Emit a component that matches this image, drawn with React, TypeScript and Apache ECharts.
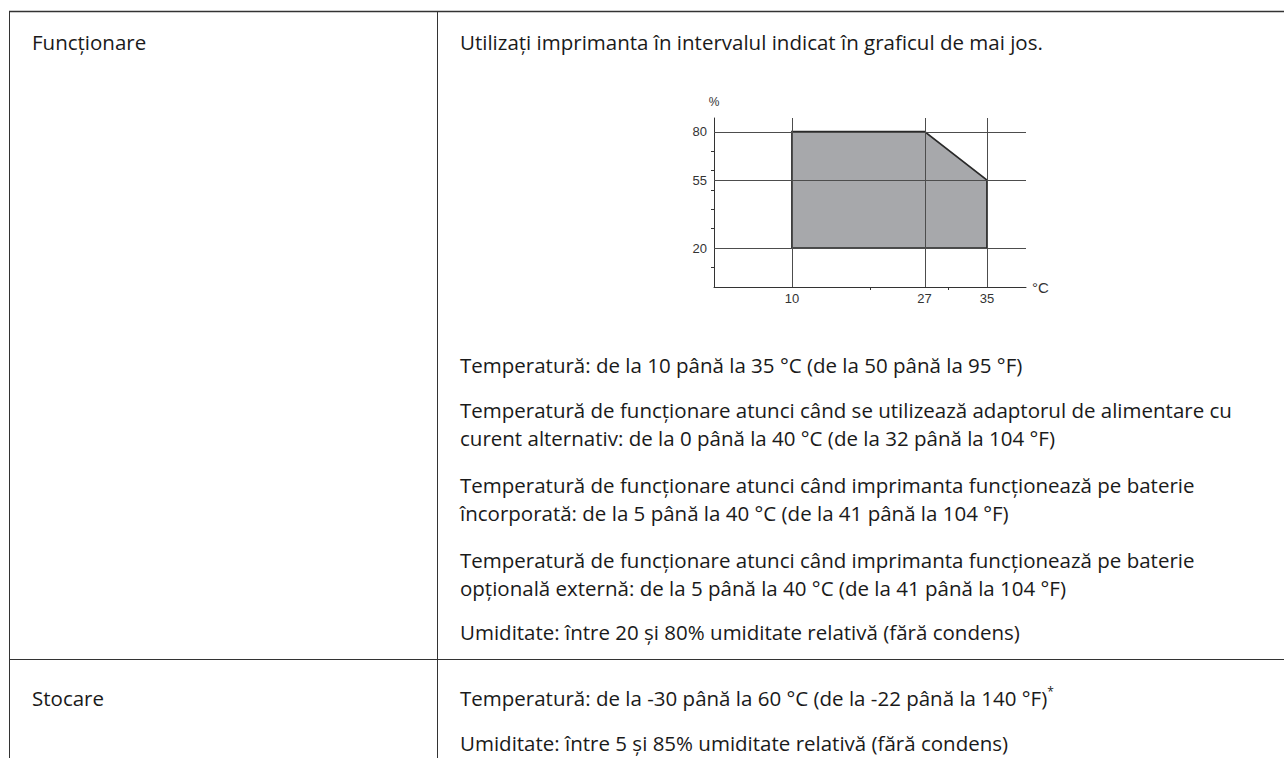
import React, { useEffect, useRef } from "react";
import * as echarts from "echarts";

// ---- chart data ----
const tempPoints = [10, 10, 27, 35, 35];
const humidityPoints = [20, 80, 80, 55, 20];
const xLabelValues = [10, 27, 35];
const yLabelValues = [20, 55, 80];
const xTickValues = [20, 30];
const yTickValues = [10, 30, 40, 50, 60, 70];
const xGridValues = [10, 27, 35];
const yGridValues = [20, 55, 80];
const xAxisName = "°C";
const yAxisName = "%";

// ---- table texts ----
const rowLabels = ["Funcționare", "Stocare"];
const introText = "Utilizați imprimanta în intervalul indicat în graficul de mai jos.";
const operatingLines = [
  "Temperatură: de la 10 până la 35 °C (de la 50 până la 95 °F)",
  "Temperatură de funcționare atunci când se utilizează adaptorul de alimentare cu",
  "curent alternativ: de la 0 până la 40 °C (de la 32 până la 104 °F)",
  "Temperatură de funcționare atunci când imprimanta funcționează pe baterie",
  "încorporată: de la 5 până la 40 °C (de la 41 până la 104 °F)",
  "Temperatură de funcționare atunci când imprimanta funcționează pe baterie",
  "opțională externă: de la 5 până la 40 °C (de la 41 până la 104 °F)",
  "Umiditate: între 20 și 80% umiditate relativă (fără condens)",
];
const storageLines = [
  "Temperatură: de la -30 până la 60 °C (de la -22 până la 140 °F)",
  "Umiditate: între 5 și 85% umiditate relativă (fără condens)",
];
const footnoteMark = "*";

// layout (positions only)
const operatingY = [365, 410, 438, 485, 513, 560, 588, 632];
const storageY = [698, 743];

const FONT = "'Open Sans', 'Noto Sans', sans-serif";
const TEXT_COLOR = "#1a1a1a";
const FS = 20.5;
const LINE = "#333333";

export default function App() {
  const ref = useRef<HTMLDivElement>(null);

  useEffect(() => {
    if (!ref.current) return;
    const chart = echarts.init(ref.current, undefined, { renderer: "svg" });

    const textEl = (text: string, x: number, y: number) => ({
      type: "text",
      x,
      y,
      style: {
        text,
        fontSize: FS,
        fontFamily: FONT,
        fill: TEXT_COLOR,
        align: "left",
        verticalAlign: "middle",
      },
      silent: true,
    });

    const graphics: any[] = [
      { type: "line", shape: { x1: 9, y1: 11.5, x2: 1284, y2: 11.5 }, style: { stroke: LINE, lineWidth: 1.3 } },
      { type: "line", shape: { x1: 9.5, y1: 11, x2: 9.5, y2: 758 }, style: { stroke: LINE, lineWidth: 1 } },
      { type: "line", shape: { x1: 437.5, y1: 11, x2: 437.5, y2: 758 }, style: { stroke: LINE, lineWidth: 1 } },
      { type: "line", shape: { x1: 9, y1: 659.5, x2: 1284, y2: 659.5 }, style: { stroke: LINE, lineWidth: 1 } },
      textEl(rowLabels[0], 32, 42),
      textEl(rowLabels[1], 32, storageY[0]),
      textEl(introText, 460, 42),
      ...operatingLines.map((t, i) => textEl(t, 460, operatingY[i])),
      {
        type: "text",
        x: 460,
        y: storageY[0],
        style: {
          text: "{a|" + storageLines[0] + "}{s|" + footnoteMark + "}",
          verticalAlign: "middle",
          align: "left",
          rich: {
            a: { fontSize: FS, fontFamily: FONT, fill: TEXT_COLOR, lineHeight: 26 },
            s: { fontSize: 12, fontFamily: FONT, fill: TEXT_COLOR, lineHeight: 26, verticalAlign: "top" },
          },
        },
        silent: true,
      },
      textEl(storageLines[1], 460, storageY[1]),
    ];

    const gridData = [
      ...xGridValues.map((v) => [0, v]),
      ...yGridValues.map((v) => [1, v]),
    ];

    const axisFont = { color: "#333", fontSize: 13, fontFamily: "'Liberation Sans', Arial, sans-serif" };

    chart.setOption({
      animation: false,
      grid: { left: 714, right: 258, top: 118, bottom: 471, containLabel: false },
      xAxis: {
        type: "value",
        min: 0,
        max: 40,
        name: xAxisName,
        nameLocation: "end",
        nameGap: 6,
        nameTextStyle: { ...axisFont, fontSize: 15, verticalAlign: "middle" },
        axisLine: { show: true, lineStyle: { color: "#333", width: 1 } },
        axisTick: { show: true, customValues: xTickValues, length: 3, inside: false, lineStyle: { color: "#333", width: 1 } },
        axisLabel: { show: true, customValues: xLabelValues, margin: 5, ...axisFont },
        splitLine: { show: false },
      },
      yAxis: {
        type: "value",
        min: 0,
        max: 87,
        name: yAxisName,
        nameLocation: "end",
        nameGap: 10,
        nameTextStyle: { ...axisFont, fontSize: 12, align: "center" },
        axisLine: { show: true, lineStyle: { color: "#333", width: 1 } },
        axisTick: { show: true, customValues: yTickValues, length: 3, inside: false, lineStyle: { color: "#333", width: 1 } },
        axisLabel: { show: true, customValues: yLabelValues, margin: 7, ...axisFont },
        splitLine: { show: false },
      },
      series: [
        {
          type: "custom",
          z: 2,
          silent: true,
          data: [[tempPoints[0], humidityPoints[0]]],
          renderItem: (_params: any, api: any) => {
            const pts = tempPoints.map((t, i) => api.coord([t, humidityPoints[i]]));
            return {
              type: "polygon",
              shape: { points: pts },
              style: { fill: "#a7a8ab", stroke: "#2a2a2a", lineWidth: 1.8 },
            };
          },
        },
        {
          type: "custom",
          z: 3,
          silent: true,
          data: gridData,
          renderItem: (params: any, api: any) => {
            const kind = api.value(0);
            const v = api.value(1);
            const cs = params.coordSys;
            if (kind === 0) {
              const x = Math.round(api.coord([v, 0])[0]) + 0.5;
              return {
                type: "line",
                shape: { x1: x, y1: cs.y, x2: x, y2: cs.y + cs.height },
                style: { stroke: "#4d4d4d", lineWidth: 1 },
              };
            }
            const y = Math.round(api.coord([0, v])[1]) + 0.5;
            return {
              type: "line",
              shape: { x1: cs.x, y1: y, x2: cs.x + cs.width, y2: y },
              style: { stroke: "#4d4d4d", lineWidth: 1 },
            };
          },
        },
      ],
      graphic: graphics,
    });

    return () => chart.dispose();
  }, []);

  return (
    <div
      ref={ref}
      style={{ position: "fixed", left: 0, top: 0, width: 1284, height: 758, background: "#fff" }}
    />
  );
}
